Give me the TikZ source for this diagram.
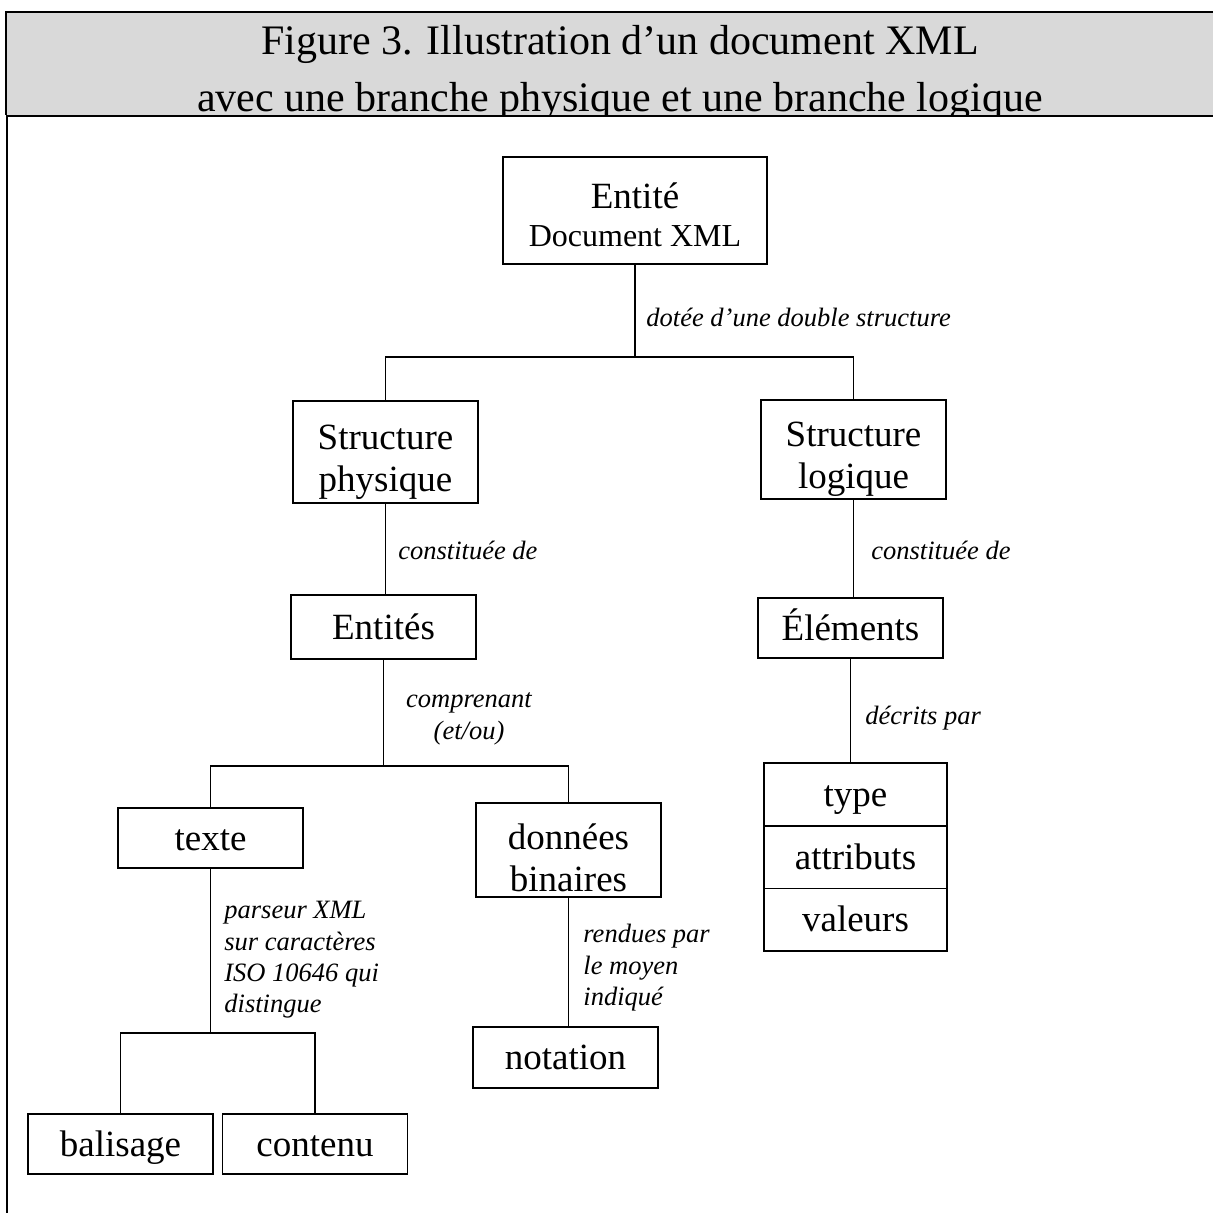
\documentclass[tikz,border=0pt]{standalone}
\usepackage{fontspec}
\setmainfont{Liberation Serif}
\usetikzlibrary{positioning}

\tikzset{
  boite/.style={draw, line width=0.9pt, minimum width=92.5pt, inner sep=0pt,
    align=center, font=\fontsize{18.5}{21}\selectfont},
  ligne/.style={text height=16.6pt, text depth=4.4pt},
  lien/.style={line width=0.8pt},
  note/.style={inner sep=0pt, font=\fontsize{13.25}{15.7}\selectfont\itshape}
}

\begin{document}
\begin{tikzpicture}[x=0.5pt, y=-0.5pt]
  \useasboundingbox (0,0) rectangle (1213,1213);
  % bandeau du titre
  \fill[black!15] (6,12) rectangle (1213,115);
  \draw[line width=1pt] (6,115) -- (6,12) -- (1213,12);
  \node[align=center, inner sep=0pt, font=\fontsize{21}{28.5}\selectfont] (titre) at (620,73)
    {Figure 3. Illustration d’un document XML\\avec une branche physique et une branche logique};
  % cadre
  \fill[white] (6,116) rectangle (1213,1213);
  \draw[line width=0.8pt] (1213,116) -- (7,116) -- (7,1213);

  % boites
  \node[boite, minimum width=132pt, minimum height=53.5pt, text height=35.6pt, text depth=0pt] (entite) at (635,210.5)
    {Entité\\[-2pt]{\fontsize{16}{18}\selectfont Document XML}};
  \node[boite, minimum height=51pt, text height=43pt, text depth=4pt] (physique) at (385.5,452) {Structure\\physique};
  \node[boite, minimum height=49.5pt, text height=42.5pt, text depth=4pt] (logique) at (853.5,449.5) {Structure\\logique};
  \node[boite, ligne, minimum height=32pt] (entites) at (383.5,627) {Entités};
  \node[boite, ligne, minimum height=30pt] (elements) at (850.5,628) {Éléments};
  \node[boite, ligne, minimum height=30pt] (texte) at (210.5,838) {texte};
  \node[boite, minimum height=47pt, text height=41.6pt, text depth=0pt] (binaires) at (568.5,850) {données\\binaires};
  \node[boite, ligne, minimum height=30.5pt] (notation) at (565.5,1057.5) {notation};
  \node[boite, ligne, minimum height=30pt] (balisage) at (120.5,1144) {balisage};
  \node[boite, ligne, minimum height=30pt] (contenu) at (315,1144) {contenu};
  % pile type / attributs / valeurs
  \node[boite, ligne, outer sep=0pt, minimum width=91.5pt, minimum height=31.3pt] (type) at (855.5,794.5) {type};
  \node[boite, ligne, outer sep=0pt, minimum width=91.5pt, minimum height=31.3pt, below=0pt of type] (attributs) {attributs};
  \node[boite, ligne, outer sep=0pt, minimum width=91.5pt, minimum height=31.3pt, below=0pt of attributs] (valeurs) {valeurs};

  % liens
  \coordinate (n1) at (635,357);
  \coordinate (n2) at (383.5,766);
  \coordinate (n3) at (210.5,1033);
  \draw[lien] (entite.south) -- (n1);
  \draw[lien] (physique.north) |- (n1) -| (logique.north);
  \draw[lien] (physique.south) -- (physique.south |- entites.north);
  \draw[lien] (logique.south) -- (logique.south |- elements.north);
  \draw[lien] (entites.south) -- (n2);
  \draw[lien] (texte.north) |- (n2) -| (binaires.north);
  \draw[lien] (elements.south) -- (elements.south |- type.north);
  \draw[lien] (texte.south) -- (n3);
  \draw[lien] (balisage.north) |- (n3) -| (contenu.north);
  \draw[lien] (binaires.south) -- (binaires.south |- notation.north);

  % etiquettes
  \node[note, anchor=west] (dotee) at (646,317) {dotée d’une double structure};
  \node[note, anchor=west] (constphys) at (398,550) {constituée de};
  \node[note, anchor=west] (constlog) at (871,550) {constituée de};
  \node[note, align=center] (comprenant) at (469,719) {comprenant\\(et/ou)};
  \node[note, anchor=west] (decrits) at (865,718) {décrits par};
  \node[note, anchor=west, align=left] (parseur) at (224,960)
    {parseur XML\\sur caractères\\ISO 10646 qui\\distingue};
  \node[note, anchor=west, align=left] (rendues) at (583,968)
    {rendues par\\le moyen\\indiqué};
\end{tikzpicture}
\end{document}
